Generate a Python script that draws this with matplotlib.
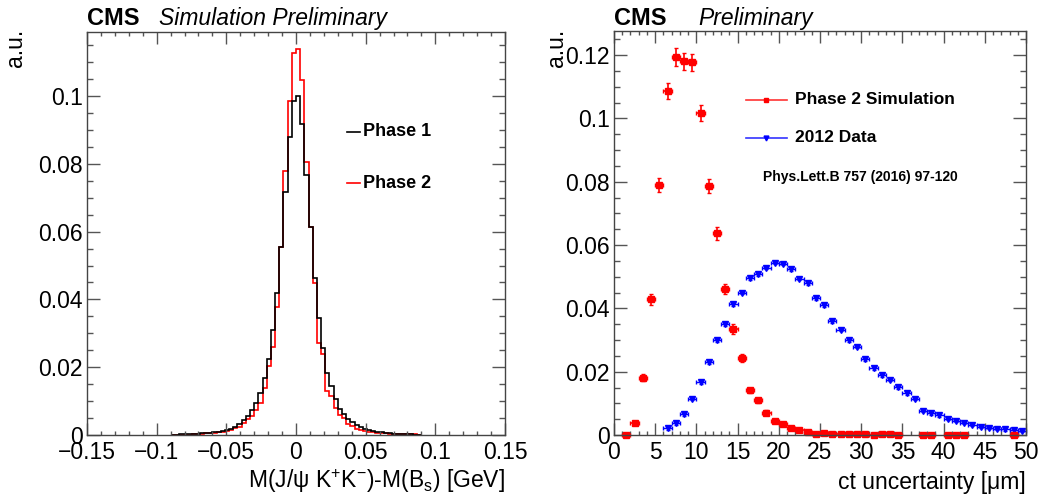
import matplotlib
matplotlib.use('Agg')
import matplotlib.pyplot as plt
from matplotlib.lines import Line2D
from matplotlib.ticker import MultipleLocator, FuncFormatter
import numpy as np

plt.rcParams['font.family'] = 'Liberation Sans'
plt.rcParams['mathtext.fontset'] = 'custom'
plt.rcParams['mathtext.rm'] = 'Liberation Sans'
plt.rcParams['mathtext.it'] = 'Liberation Sans:italic'
plt.rcParams['mathtext.bf'] = 'Liberation Sans:bold'

# M(J/psi KK) - M(Bs), 0.003 GeV bins from -0.090 to 0.090
massEdges = np.round(np.arange(-0.090, 0.0905, 0.003), 3)
phase1Mass = [0.0000, 0.0001, 0.0002, 0.0002, 0.0003, 0.0003, 0.0004, 0.0005, 0.0006, 0.0007,
              0.0008, 0.0010, 0.0012, 0.0015, 0.0018, 0.0025, 0.0032, 0.0043, 0.0057, 0.0073,
              0.0093, 0.0124, 0.0167, 0.0224, 0.0310, 0.0418, 0.0556, 0.0717, 0.0880, 0.0986,
              0.1001, 0.0917, 0.0767, 0.0614, 0.0462, 0.0344, 0.0257, 0.0184, 0.0144, 0.0105,
              0.0078, 0.0062, 0.0047, 0.0037, 0.0029, 0.0023, 0.0018, 0.0015, 0.0012, 0.0010,
              0.0008, 0.0007, 0.0005, 0.0004, 0.0003, 0.0003, 0.0002, 0.0002, 0.0001, 0.0001]
phase2Mass = [0.0000, 0.0000, 0.0000, 0.0001, 0.0001, 0.0002, 0.0003, 0.0004, 0.0005, 0.0006,
              0.0007, 0.0008, 0.0010, 0.0012, 0.0015, 0.0020, 0.0025, 0.0034, 0.0047, 0.0057,
              0.0074, 0.0093, 0.0140, 0.0204, 0.0260, 0.0379, 0.0556, 0.0780, 0.0985, 0.1128,
              0.1138, 0.1047, 0.0806, 0.0615, 0.0447, 0.0272, 0.0240, 0.0129, 0.0116, 0.0081,
              0.0060, 0.0049, 0.0033, 0.0027, 0.0019, 0.0015, 0.0012, 0.0010, 0.0009, 0.0007,
              0.0006, 0.0005, 0.0004, 0.0004, 0.0003, 0.0003, 0.0002, 0.0003, 0.0003, 0.0001]

# ct uncertainty, 1 um bins (bin centres)
simCenters = [1.5, 2.5, 3.5, 4.5, 5.5, 6.5, 7.5, 8.5, 9.5, 10.5,
              11.5, 12.5, 13.5, 14.5, 15.5, 16.5, 17.5, 18.5, 19.5, 20.5,
              21.5, 22.5, 23.5, 24.5, 25.5, 26.5, 27.5, 28.5, 29.5, 30.5,
              31.5, 32.5, 33.5, 34.5, 37.5, 38.5, 40.5, 41.5, 42.5, 48.5]
simValues = [0.0001, 0.0037, 0.0181, 0.0428, 0.0789, 0.1087, 0.1193, 0.1181, 0.1177, 0.1016,
             0.0787, 0.0637, 0.0461, 0.0335, 0.0244, 0.0141, 0.0110, 0.0071, 0.0045, 0.0035,
             0.0021, 0.0015, 0.0008, 0.0004, 0.0006, 0.0002, 0.0004, 0.0002, 0.0002, 0.0002,
             0.0001, 0.0002, 0.0002, 0.0001, 0.0001, 0.0001, 0.0001, 0.0001, 0.0001, 0.0001]
simErrors = [0.0001, 0.0005, 0.0011, 0.0017, 0.0022, 0.0026, 0.0028, 0.0027, 0.0027, 0.0025,
             0.0022, 0.0020, 0.0017, 0.0015, 0.0012, 0.0009, 0.0008, 0.0007, 0.0005, 0.0005,
             0.0004, 0.0003, 0.0002, 0.0002, 0.0002, 0.0001, 0.0002, 0.0001, 0.0001, 0.0001,
             0.0001, 0.0001, 0.0001, 0.0001, 0.0001, 0.0001, 0.0001, 0.0001, 0.0001, 0.0001]

dataCenters = [6.5, 7.5, 8.5, 9.5, 10.5, 11.5, 12.5, 13.5, 14.5, 15.5,
               16.5, 17.5, 18.5, 19.5, 20.5, 21.5, 22.5, 23.5, 24.5, 25.5,
               26.5, 27.5, 28.5, 29.5, 30.5, 31.5, 32.5, 33.5, 34.5, 35.5,
               36.5, 37.5, 38.5, 39.5, 40.5, 41.5, 42.5, 43.5, 44.5, 45.5,
               46.5, 47.5, 48.5, 49.5]
dataValues = [0.0021, 0.0038, 0.0066, 0.0114, 0.0166, 0.0229, 0.0299, 0.0350, 0.0413, 0.0449,
              0.0495, 0.0507, 0.0528, 0.0544, 0.0541, 0.0524, 0.0493, 0.0479, 0.0432, 0.0410,
              0.0359, 0.0332, 0.0300, 0.0279, 0.0239, 0.0211, 0.0189, 0.0174, 0.0151, 0.0132,
              0.0114, 0.0077, 0.0069, 0.0063, 0.0051, 0.0045, 0.0039, 0.0033, 0.0026, 0.0023,
              0.0020, 0.0018, 0.0015, 0.0014]

W, H = 1050, 497


def fx(px):
    return px / W


def fy(py):
    return 1 - py / H


def rootLabel(v, pos):
    return ('%g' % round(v, 6)).replace('-', '\u2212')


def styleAxes(ax, xmaj, xmin, ymaj, ymin):
    ax.xaxis.set_major_locator(MultipleLocator(xmaj))
    ax.xaxis.set_minor_locator(MultipleLocator(xmin))
    ax.yaxis.set_major_locator(MultipleLocator(ymaj))
    ax.yaxis.set_minor_locator(MultipleLocator(ymin))
    ax.xaxis.set_major_formatter(FuncFormatter(rootLabel))
    ax.yaxis.set_major_formatter(FuncFormatter(rootLabel))
    ax.tick_params(which='both', direction='in', top=True, right=True, color='#555555', width=1.0)
    ax.tick_params(which='major', labelsize=16.5, labelcolor='black')
    ax.tick_params(axis='x', which='major', length=8.3, pad=4)
    ax.tick_params(axis='x', which='minor', length=3.1)
    ax.tick_params(axis='y', which='major', length=9.1, pad=3)
    ax.tick_params(axis='y', which='minor', length=4.3)
    for sp in ax.spines.values():
        sp.set_color('#444444')
        sp.set_linewidth(1.0)


fig = plt.figure(figsize=(W / 100, H / 100), dpi=100)

# left: mass resolution
ax1 = fig.add_axes([fx(87), 62 / H, 418 / W, 403 / H])
ax1.stairs(phase2Mass, massEdges, color='red', lw=1.2)
ax1.stairs(phase1Mass, massEdges, color='black', lw=1.2)
ax1.set_xlim(-0.15, 0.15)
ax1.set_ylim(0, 0.1189)
styleAxes(ax1, 0.05, 0.01, 0.02, 0.005)

# right: ct uncertainty
ax2 = fig.add_axes([fx(614), 62 / H, 412 / W, 404 / H])
ax2.errorbar(dataCenters, dataValues, xerr=0.5, yerr=0.0005, fmt='v', color='blue',
             ms=3.8, elinewidth=1.0, capsize=1.2, clip_on=False)
ax2.errorbar(simCenters, simValues, xerr=0.5, yerr=simErrors, fmt='s', color='red',
             ms=4.3, elinewidth=1.2, capsize=1.2, clip_on=False)
ax2.set_xlim(0, 50)
ax2.set_ylim(0, 0.1276)
styleAxes(ax2, 5, 1, 0.02, 0.005)

# headers
fig.text(fx(87), fy(25), 'CMS', fontsize=17, fontweight='bold', va='baseline')
fig.text(fx(159), fy(25), 'Simulation Preliminary', fontsize=16.5, style='italic', va='baseline')
fig.text(fx(614), fy(25), 'CMS', fontsize=17, fontweight='bold', va='baseline')
fig.text(fx(698), fy(25), 'Preliminary', fontsize=16.5, style='italic', va='baseline')

# axis titles
fig.text(fx(15.5), fy(29), 'a.u.', fontsize=16.5, rotation=90, ha='center', va='top')
fig.text(fx(556.5), fy(29), 'a.u.', fontsize=16.5, rotation=90, ha='center', va='top')
fig.text(fx(505), fy(488), r'M(J/ψ K$^{+}$K$^{-}$)-M(B$_{\mathrm{s}}$) [GeV]',
         fontsize=16.5, ha='right', va='baseline')
fig.text(fx(1026), fy(489), 'ct uncertainty [μm]', fontsize=16.5, ha='right', va='baseline')

# left legend
for yk, col, lab in [(132, 'black', 'Phase 1'), (183, 'red', 'Phase 2')]:
    fig.add_artist(Line2D([fx(347), fx(360)], [fy(yk), fy(yk)], color=col, lw=1.2))
    fig.text(fx(363), fy(yk), lab, fontsize=13, fontweight='bold', va='center')

# right legend
for yk, col, mk, lab in [(100, 'red', 's', 'Phase 2 Simulation'), (138, 'blue', 'v', '2012 Data')]:
    fig.add_artist(Line2D([fx(746), fx(787)], [fy(yk), fy(yk)], color=col, lw=1.2, alpha=0.8))
    fig.add_artist(Line2D([fx(766)], [fy(yk)], color=col, marker=mk, ms=3.5, lw=0))
    fig.text(fx(795), fy(yk), lab, fontsize=12.5, fontweight='bold', va='center')
fig.text(fx(763), fy(177), 'Phys.Lett.B 757 (2016) 97-120', fontsize=10, fontweight='bold', va='center')

fig.savefig('out.png', dpi=100)
